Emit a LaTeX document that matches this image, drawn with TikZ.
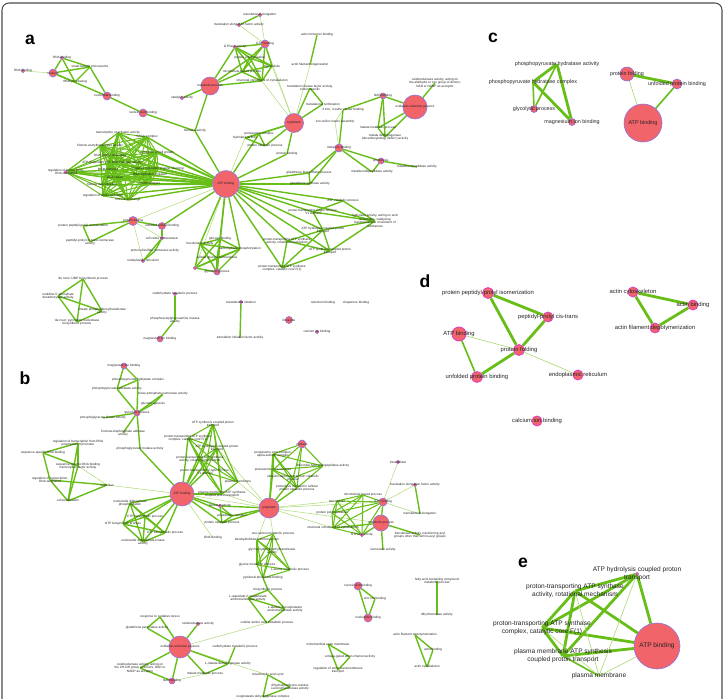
\documentclass[tikz,border=0pt]{standalone}
\usepackage{fontspec}
\setmainfont{Liberation Sans}
\usetikzlibrary{backgrounds}
\definecolor{nodefill}{RGB}{241,100,106}
\definecolor{rimblue}{RGB}{140,112,228}
\definecolor{rimmag}{RGB}{222,62,196}
\definecolor{grn}{RGB}{104,190,24}
\definecolor{grnl}{RGB}{168,216,110}
\definecolor{txt}{RGB}{35,35,35}
\definecolor{framegray}{RGB}{75,75,75}

\begin{document}
\begin{tikzpicture}[
  x=0.03cm, y=-0.03cm,
  hub/.style={circle,fill=nodefill,draw=rimblue,line width=0.5pt,inner sep=0pt,minimum size=#1},
  hubd/.style={hub=#1,draw=rimmag,line width=0.7pt},
  dot/.style={circle,fill=nodefill,draw=rimblue,line width=0.3pt,inner sep=0pt,minimum size=0.11cm},
  pt/.style={inner sep=0pt,minimum size=0pt},
  ta/.style={label={[font=\fontsize{2.7}{3.1}\selectfont,text=txt,align=center,inner sep=0pt]center:{#1}}},
  tc/.style={label={[font=\fontsize{4.6}{5.4}\selectfont,text=txt,align=center,inner sep=0pt]center:{#1}}},
  td/.style={label={[font=\fontsize{5}{6}\selectfont,text=txt,align=center,inner sep=0pt]center:{#1}}},
  te/.style={label={[font=\fontsize{5.6}{6.6}\selectfont,text=txt,align=center,inner sep=0pt]center:{#1}}},
  eA/.style={draw=grn,line width=1.2pt},
  eAt/.style={draw=grnl,line width=0.4pt},
  eB/.style={draw=grn,line width=2.4pt},
  eBm/.style={draw=grn,line width=1.4pt},
  eBt/.style={draw=grnl,line width=0.5pt},
  panel/.style={font=\fontsize{15}{15}\selectfont\bfseries,inner sep=0pt}
]
  \useasboundingbox (0,0) rectangle (725,699);
  \draw[framegray,line width=0.9pt,rounded corners=6pt] (2,3) rectangle (722,712);

  % panel a
  \node[panel] (pa) at (30,40) {a};
  \node[dot,ta=DNA binding] (dna) at (23,71) {};
  \node[hub=0.24cm,ta=nucleus] (nuca) at (53,73) {};
  \node[dot,ta=RNA binding] (rnab) at (62,58) {};
  \node[pt,ta=small-subunit processome] (ssp) at (90,67) {};
  \node[pt,ta=rRNA processing] (rrna) at (75,82) {};
  \node[hub=0.24cm,ta=nucleotide binding] (ntb) at (107,96) {};
  \node[hub=0.24cm,ta=nucleic acid binding] (nab) at (143,113) {};
  \node[pt,ta=helicase activity] (hel) at (195,131) {};
  \node[hub=0.54cm,ta=metabolic process] (meta) at (210,86) {};
  \node[dot,ta=catalytic activity] (cata) at (182,98) {};
  \node[dot,ta=GTPase activity] (gtpa) at (235,47) {};
  \node[hub=0.24cm,ta=GTP binding] (gtpb) at (265,44) {};
  \node[pt,ta=protein polymerization] (ppol) at (250,58) {};
  \node[pt,ta=microtubule] (mtb) at (272,66) {};
  \node[pt,ta=microtubule-based process] (mbp) at (242,72) {};
  \node[pt,ta=structural constituent of cytoskeleton] (scc) at (262,81) {};
  \node[dot,ta=translation elongation factor activity] (tef) at (239,25) {};
  \node[dot,ta=translational elongation] (tel) at (260,15) {};
  \node[pt,ta=actin monomer binding] (amb) at (317,35) {};
  \node[pt,ta=actin filament organization] (afo) at (310,65) {};
  \node[pt,ta={translation release factor activity,\\codon specific}] (trf) at (310,88) {};
  \node[pt,ta=translational termination] (ttm) at (323,104) {};
  \node[hub=0.57cm,ta=cytoplasm] (cyta) at (294,123) {};
  \node[pt,ta={4 iron, 4 sulfur cluster binding}] (fes) at (343,110) {};
  \node[pt,ta=iron-sulfur cluster assembly] (isc) at (335,122) {};
  \node[hub=0.18cm,ta=NAD binding] (nad) at (383,96) {};
  \node[hub=0.72cm,ta=oxidation-reduction process] (oxr) at (415,107) {};
  \node[pt,ta={oxidoreductase activity, acting on\\the aldehyde or oxo group of donors,\\NAD or NADP as acceptor}] (oxa) at (435,83) {};
  \node[pt,ta=malate metabolic process] (mmp) at (378,128) {};
  \node[pt,ta={malate dehydrogenase\\(decarboxylating) (NAD+) activity}] (mdh) at (385,137) {};
  \node[hub=0.24cm,ta=metal ion binding] (mib) at (339,148) {};
  \node[hub=0.18cm,ta=proteolysis] (prl) at (381,161) {};
  \node[pt,ta=metalloexopeptidase activity] (mex) at (417,167) {};
  \node[pt,ta=metalloendopeptidase activity] (men) at (372,172) {};
  \node[pt,ta=glutathione biosynthetic process] (gbp) at (309,173) {};
  \node[pt,ta=glutathione synthase activity] (gsa) at (310,184) {};
  \node[pt,ta=protein binding] (pba) at (287,154) {};
  \node[pt,ta=proteasome complex] (psc) at (259,134) {};
  \node[pt,ta=hydrolase activity] (hyd) at (245,138) {};
  \node[pt,ta=protein catabolic process] (pcp) at (265,146) {};
  \node[hub=0.8cm,ta=ATP binding] (atpa) at (226,184) {};
  \node[pt,ta=transcription coactivator activity] (m1) at (118,133) {};
  \node[pt,ta=SAGA complex] (m2) at (147,137) {};
  \node[pt,ta=histone acetyltransferase activity] (m3) at (100,146) {};
  \node[pt,ta=DNA duplex unwinding] (m4) at (110,156) {};
  \node[pt,ta=regulation of cell growth] (m5) at (157,153) {};
  \node[pt,ta=ATP-dependent 3'-5' DNA helicase activity] (m6) at (112,163) {};
  \node[dot,ta={regulation of transcription,\\DNA-templated}] (m7) at (66,172) {};
  \node[pt,ta=MCM complex] (m8) at (108,170) {};
  \node[pt,ta=negative regulation of gene silencing] (m9) at (158,169) {};
  \node[pt,ta=DNA replication initiation] (m10) at (150,175) {};
  \node[pt,ta=DNA repair] (m11) at (115,178) {};
  \node[pt,ta=Ino80 complex] (m12) at (150,184) {};
  \node[pt,ta=histone deacetylation] (m13) at (102,185) {};
  \node[pt,ta=regulation of DNA replication] (m14) at (103,196) {};
  \node[pt,ta=histone exchange] (m15) at (128,200) {};
  \node[hub=0.27cm,ta=protein folding] (pf) at (133,221) {};
  \node[hub=0.21cm,ta=unfolded protein binding] (upb) at (162,226) {};
  \node[pt,ta=protein peptidyl-prolyl isomerization] (ppi) at (83,226) {};
  \node[pt,ta={peptidyl-prolyl cis-trans isomerase\\activity}] (ppia) at (90,242) {};
  \node[dot,ta=cell redox homeostasis] (crh) at (162,238) {};
  \node[pt,ta=protein disulfide isomerase activity] (pdi) at (155,251) {};
  \node[dot,ta=endoplasmic reticulum] (era) at (143,261) {};
  \node[pt,ta=glucose binding] (gbd) at (220,239) {};
  \node[pt,ta=hexokinase activity] (hxk) at (200,244) {};
  \node[pt,ta=carbohydrate phosphorylation] (cph) at (240,249) {};
  \node[pt,ta=cellular glucose homeostasis] (cgh) at (217,258) {};
  \node[hub=0.18cm,ta=glycolytic process] (glya) at (217,272) {};
  \node[dot] (gx) at (195,268) {};
  \node[pt,ta=ATP catabolic process] (acp) at (343,201) {};
  \node[pt,ta={proton-transporting V-type ATPase,\\V1 domain}] (v1) at (313,212) {};
  \node[pt,ta={hydrolase activity, acting on acid\\anhydrides, catalyzing\\transmembrane movement of\\substances}] (hac) at (375,221) {};
  \node[pt,ta={ATP hydrolysis coupled proton\\transport}] (ahc) at (323,230) {};
  \node[pt,ta={proton-transporting ATP synthase\\activity, rotational mechanism}] (rot) at (287,241) {};
  \node[pt,ta={ATP synthesis coupled proton\\transport}] (asc) at (330,251) {};
  \node[pt,ta={proton-transporting ATP synthase\\complex, catalytic core F(1)}] (ccf) at (282,268) {};
  \node[pt,ta='de novo' UMP biosynthetic process] (ump) at (83,279) {};
  \node[pt,ta={orotidine-5'-phosphate\\decarboxylase activity}] (oro) at (58,296) {};
  \node[pt,ta={orotate phosphoribosyltransferase\\activity}] (ort) at (102,311) {};
  \node[pt,ta={'de novo' pyrimidine nucleobase\\biosynthetic process}] (pyr) at (77,322) {};
  \node[dot,ta=carbohydrate metabolic process] (cmp) at (175,294) {};
  \node[pt,ta={phosphoacetylglucosamine mutase\\activity}] (pam) at (175,320) {};
  \node[hub=0.18cm,ta=magnesium ion binding] (mgi) at (160,339) {};
  \node[dot,ta=translational initiation] (tin) at (241,302) {};
  \node[pt,ta=translation initiation factor activity] (tif) at (240,338) {};
  \node[pt,ta=selenium binding] (seb) at (323,303) {};
  \node[pt,ta=chaperone binding] (chb) at (356,303) {};
  \node[hub=0.21cm,ta=ribosome] (rib) at (289,320) {};
  \node[dot,ta=calcium ion binding] (cib) at (317,332) {};

  % panel b
  \node[panel] (pb) at (25,378) {b};
  \node[hub=0.18cm,ta=magnesium ion binding] (mgb) at (124,366) {};
  \node[pt,ta=phosphopyruvate hydratase complex] (phc) at (138,380) {};
  \node[pt,ta=phosphopyruvate hydratase activity] (pha) at (117,389) {};
  \node[pt,ta=triose-phosphate isomerase activity] (tpi) at (163,394) {};
  \node[pt,ta=gluconeogenesis] (gng) at (153,404) {};
  \node[hub=0.18cm,ta=glycolytic process] (glyb) at (137,413) {};
  \node[pt,ta=phosphoglycerate kinase activity] (pgk) at (103,418) {};
  \node[pt,ta={fructose-bisphosphate aldolase\\activity}] (fba) at (123,433) {};
  \node[pt,ta=phosphoglycerate mutase activity] (pgm) at (140,449) {};
  \node[pt,ta={regulation of transcription from RNA\\polymerase II promoter}] (rtp) at (78,443) {};
  \node[pt,ta=sequence-specific DNA binding] (ssd) at (43,453) {};
  \node[pt,ta={sequence-specific DNA binding\\transcription factor activity}] (sstf) at (78,466) {};
  \node[pt,ta={regulation of transcription,\\DNA-templated}] (rtd) at (50,480) {};
  \node[pt,ta=nucleolus] (nclo) at (107,485) {};
  \node[pt,ta=cell proliferation] (cpr) at (68,501) {};
  \node[hub=0.72cm,ta=ATP binding] (atpb) at (182,494) {};
  \node[pt,ta={ATP synthesis coupled proton\\transport}] (ascb) at (213,424) {};
  \node[pt,ta={proton-transporting ATP synthase\\complex, catalytic core F(1)}] (ccfb) at (188,438) {};
  \node[pt,ta={ATP hydrolysis coupled proton\\transport}] (ahcb) at (217,448) {};
  \node[pt,ta={proton-transporting ATP synthase\\activity, rotational mechanism}] (rotb) at (200,459) {};
  \node[pt,ta={proton-transporting V-type ATPase,\\V1 domain}] (v1b) at (205,472) {};
  \node[pt,ta=plasma membrane] (pmb) at (238,482) {};
  \node[pt,ta={plasma membrane ATP synthesis\\coupled proton transport}] (pmab) at (222,494) {};
  \node[dot,ta=helicase activity] (helb) at (220,506) {};
  \node[pt,ta=proteasome complex] (pscb) at (232,516) {};
  \node[pt,ta=protein catabolic process] (pcpb) at (222,523) {};
  \node[pt,ta=DNA binding] (dnab) at (213,538) {};
  \node[pt,ta={nucleoside diphosphate\\phosphorylation}] (ndp) at (130,503) {};
  \node[pt,ta=CTP biosynthetic process] (ctp) at (145,517) {};
  \node[pt,ta=GTP biosynthetic process] (gtpbs) at (123,524) {};
  \node[pt,ta=UTP biosynthetic process] (utp) at (165,533) {};
  \node[pt,ta={nucleoside diphosphate kinase\\activity}] (ndk) at (143,542) {};
  \node[hub=0.6cm,ta=cytoplasm] (cytb) at (269,508) {};
  \node[hub=0.24cm,ta=nucleus] (nucb) at (302,444) {};
  \node[pt,ta={proteasome core complex,\\alpha-subunit complex}] (pcac) at (273,454) {};
  \node[pt,ta=threonine-type endopeptidase activity] (tea) at (323,466) {};
  \node[pt,ta=proteasome core complex] (pcc) at (273,470) {};
  \node[pt,ta={ubiquitin-dependent protein catabolic\\process}] (ubq) at (293,478) {};
  \node[pt,ta={proteolysis involved in cellular\\protein catabolic process}] (ppc) at (297,488) {};
  \node[dot,ta=intracellular] (icl) at (398,462) {};
  \node[dot,ta=translation elongation factor activity] (tefb) at (415,485) {};
  \node[pt,ta=translational elongation] (telb) at (420,514) {};
  \node[pt,ta=microtubule-based process] (mbpb) at (363,495) {};
  \node[pt,ta=microtubule] (mtbb) at (337,501) {};
  \node[pt,ta=protein polymerization] (ppb) at (332,513) {};
  \node[pt,ta=structural constituent of cytoskeleton] (sccb) at (333,528) {};
  \node[dot,ta=GTPase activity] (gtpab) at (362,535) {};
  \node[hub=0.24cm,ta=GTP binding] (gtpbb) at (383,502) {};
  \node[hub=0.48cm,ta=metabolic process] (metb) at (381,523) {};
  \node[pt,ta={transferase activity, transferring acyl\\groups other than amino-acyl groups}] (trb) at (420,535) {};
  \node[pt,ta=isomerase activity] (isob) at (383,550) {};
  \node[pt,ta=one-carbon metabolic process] (ocm) at (273,534) {};
  \node[pt,ta=tetrahydrofolate interconversion] (thf) at (257,540) {};
  \node[pt,ta={glycine hydroxymethyltransferase\\activity}] (ght) at (272,551) {};
  \node[pt,ta=glycine metabolic process] (glym) at (257,565) {};
  \node[pt,ta=L-serine metabolic process] (ser) at (290,570) {};
  \node[pt,ta=pyridoxal phosphate binding] (plp) at (263,578) {};
  \node[pt,ta=biosynthetic process] (bsp) at (268,590) {};
  \node[pt,ta={L-aspartate:2-oxoglutarate\\aminotransferase activity}] (asp) at (248,598) {};
  \node[pt,ta={L-alanine:2-oxoglutarate\\aminotransferase activity}] (ala) at (285,609) {};
  \node[pt,ta=cellular amino acid metabolic process] (camp) at (267,623) {};
  \node[pt,ta=response to oxidative stress] (ros) at (160,617) {};
  \node[pt,ta=glutathione peroxidase activity] (gpx) at (147,628) {};
  \node[dot,ta=oxidoreductase activity] (oxab) at (198,624) {};
  \node[hub=0.66cm,ta=oxidation-reduction process] (oxrb) at (180,647) {};
  \node[pt,ta=carbohydrate metabolic process] (cmpb) at (235,647) {};
  \node[pt,ta={oxidoreductase activity, acting on\\the CH-OH group of donors, NAD or\\NADP as acceptor}] (ohb) at (140,668) {};
  \node[hub=0.18cm,ta=NAD binding] (nadb) at (172,681) {};
  \node[pt,ta=L-malate dehydrogenase activity] (lmd) at (228,664) {};
  \node[pt,ta=malate metabolic process] (mmpb) at (205,674) {};
  \node[pt,ta=tricarboxylic acid cycle] (tca) at (268,675) {};
  \node[pt,ta={dihydrolipoyllysine-residue\\succinyltransferase activity}] (dls) at (290,687) {};
  \node[pt,ta=oxoglutarate dehydrogenase complex] (ogd) at (263,697) {};
  \node[hub=0.24cm,ta=nucleic acid binding] (nabb) at (358,586) {};
  \node[pt,ta=zinc ion binding] (znb) at (375,599) {};
  \node[hub=0.24cm,ta=nucleotide binding] (ntbb) at (368,618) {};
  \node[pt,ta={fatty acid-containing compound\\metabolic process}] (fac) at (437,581) {};
  \node[pt,ta=dihydroorotase activity] (dho) at (437,615) {};
  \node[pt,ta=mitochondrial outer membrane] (mom) at (328,644) {};
  \node[pt,ta=voltage-gated anion channel activity] (vga) at (350,657) {};
  \node[pt,ta={regulation of anion transmembrane\\transport}] (rat) at (338,670) {};
  \node[pt,ta=actin filament depolymerization] (afdb) at (415,635) {};
  \node[pt,ta=actin binding] (abb) at (433,650) {};
  \node[pt,ta=actin cytoskeleton] (acb) at (427,667) {};

  % panel c
  \node[panel] (pc) at (493,38) {c};
  \node[pt,tc=phosphopyruvate hydratase activity] (phac) at (557,64) {};
  \node[pt,tc=phosphopyruvate hydratase complex] (phcc) at (533,82) {};
  \node[hub=0.21cm,tc=glycolytic process] (glyc) at (534,109) {};
  \node[hub=0.21cm,tc=magnesium ion binding] (mgc) at (572,122) {};
  \node[hub=0.42cm,tc=protein folding] (pfc) at (627,74) {};
  \node[hub=0.3cm,tc=unfolded protein binding] (upbc) at (677,84) {};
  \node[hub=1.14cm,tc=ATP binding] (atpc) at (643,123) {};

  % panel d
  \node[panel] (pd) at (425,281) {d};
  \node[hubd=0.33cm,td=protein peptidyl-prolyl isomerization] (ppid) at (488,293) {};
  \node[hubd=0.3cm,td=peptidyl-prolyl cis-trans] (pctd) at (548,317) {};
  \node[hubd=0.42cm,td=ATP binding] (atpd) at (459,334) {};
  \node[hubd=0.33cm,td=protein folding] (pfd) at (519,350) {};
  \node[hubd=0.33cm,td=unfolded protein binding] (upbd) at (477,377) {};
  \node[hubd=0.3cm,td=endoplasmic reticulum] (erd) at (578,375) {};
  \node[hubd=0.3cm,td=calcium ion binding] (cibd) at (537,421) {};
  \node[hubd=0.3cm,td=actin cytoskeleton] (acd) at (633,292) {};
  \node[hubd=0.3cm,td=actin binding] (abd) at (693,305) {};
  \node[hubd=0.3cm,td=actin filament depolymerization] (afdd) at (655,328) {};

  % panel e
  \node[panel] (pe) at (523,563) {e};
  \node[dot,te={ATP hydrolysis coupled proton\\transport}] (hyde) at (637,574) {};
  \node[pt,te={proton-transporting ATP synthase\\activity, rotational mechanism}] (rote) at (575,591) {};
  \node[pt,te={proton-transporting ATP synthase\\complex, catalytic core F(1)}] (cate) at (542,628) {};
  \node[pt,te={plasma membrane ATP synthesis\\coupled proton transport}] (pmae) at (563,656) {};
  \node[pt,te=plasma membrane] (pme) at (599,676) {};
  \node[hub=1.38cm,te=ATP binding] (atpe) at (657,646) {};

  \begin{pgfonlayer}{background}
    % a: thin links
    \foreach \u/\v in {dna/nuca,tef/gtpb,tel/gtpb,cyta/gtpb,cyta/scc,cyta/mtb,afo/cyta,fes/isc,
        atpa/pf,atpa/hyd,pf/crh,pf/era,atpa/gx,mib/isc}
      \draw[eAt] (\u) -- (\v);
    % a: strong links
    \foreach \u/\v in {nuca/rnab,nuca/ssp,nuca/rrna,rnab/ssp,rnab/rrna,ssp/rrna,nuca/ntb,ssp/ntb,
        ntb/nab,nab/hel,hel/meta,hel/atpa,meta/cata,meta/gtpa,meta/ppol,meta/mbp,meta/scc,tef/tel,
        amb/afo,cyta/trf,cyta/ttm,trf/ttm,cyta/psc,cyta/pcp,cyta/hyd,psc/pcp,psc/hyd,hyd/pcp,
        cyta/pba,atpa/pba,atpa/psc,atpa/gbp,atpa/gsa,gbp/gsa,gbp/mib,gsa/mib,mib/fes,mib/prl,mib/men,
        prl/men,prl/mex,fes/nad,nad/oxr,nad/mmp,nad/mdh,oxr/mmp,oxr/mdh,mmp/mdh,oxr/oxa,
        atpa/upb,pf/upb,pf/ppi,pf/ppia,ppi/ppia,upb/crh,crh/pdi,pdi/era,crh/era,
        atpa/gbd,atpa/hxk,atpa/cph,atpa/glya,
        atpa/acp,atpa/v1,atpa/hac,atpa/ahc,atpa/rot,atpa/asc,atpa/ccf,acp/v1,acp/hac,v1/hac,
        v1/ahc,hac/ahc,hac/asc,cmp/pam,pam/mgi,tin/tif}
      \draw[eA] (\u) -- (\v);
    \foreach \u in {m1,m2,m3,m4,m5,m6,m7,m8,m9,m10,m11,m12,m13,m14,m15}
      \draw[eA] (atpa) -- (\u);
    \foreach \u [count=\i] in {m1,m2,m3,m4,m5,m6,m7,m8,m9,m10,m11,m12,m13,m14,m15}
      \foreach \v [count=\j] in {m1,m2,m3,m4,m5,m6,m7,m8,m9,m10,m11,m12,m13,m14,m15}
        {\ifnum\i<\j \draw[eA,line width=0.8pt] (\u) -- (\v); \fi}
    \foreach \u [count=\i] in {gtpa,gtpb,ppol,mtb,mbp,scc}
      \foreach \v [count=\j] in {gtpa,gtpb,ppol,mtb,mbp,scc}
        {\ifnum\i<\j \draw[eA] (\u) -- (\v); \fi}
    \foreach \u [count=\i] in {gbd,hxk,cph,cgh,glya,gx}
      \foreach \v [count=\j] in {gbd,hxk,cph,cgh,glya,gx}
        {\ifnum\i<\j \draw[eA] (\u) -- (\v); \fi}
    \foreach \u [count=\i] in {ahc,rot,asc,ccf}
      \foreach \v [count=\j] in {ahc,rot,asc,ccf}
        {\ifnum\i<\j \draw[eA] (\u) -- (\v); \fi}
    \foreach \u [count=\i] in {ump,oro,ort,pyr}
      \foreach \v [count=\j] in {ump,oro,ort,pyr}
        {\ifnum\i<\j \draw[eA] (\u) -- (\v); \fi}

    % b
    \foreach \u/\v in {atpb/nclo,sstf/nclo,cytb/pmb,cytb/pmab,cytb/ahcb,atpb/dnab,atpb/cytb,
        cytb/mtbb,cytb/metb,cytb/sccb,cytb/gtpbb,gtpbb/icl,gtpbb/tefb,gtpbb/telb,cytb/ocm,cytb/thf,
        camp/oxrb,oxrb/tca,nadb/mmpb}
      \draw[eAt] (\u) -- (\v);
    \foreach \u/\v in {mgb/phc,mgb/pha,phc/pha,phc/glyb,pha/glyb,tpi/gng,tpi/glyb,gng/glyb,
        glyb/pgk,glyb/fba,glyb/pgm,pgm/atpb,ssd/rtp,ssd/sstf,ssd/rtd,rtp/sstf,rtp/cpr,rtd/nclo,
        rtd/cpr,nclo/cpr,sstf/cpr,atpb/ascb,atpb/ccfb,atpb/ahcb,atpb/rotb,atpb/v1b,atpb/pmab,
        atpb/helb,atpb/pscb,atpb/pcpb,helb/pscb,pscb/pcpb,helb/pcpb,cytb/pscb,cytb/pcpb,cytb/helb,
        cytb/pcac,cytb/pcc,cytb/ubq,cytb/ppc,metb/gtpab,metb/gtpbb,metb/sccb,metb/trb,metb/isob,
        tefb/telb,plp/bsp,bsp/asp,bsp/ala,asp/ala,asp/camp,ala/camp,oxrb/ros,oxrb/gpx,ros/gpx,
        oxrb/oxab,oxrb/ohb,oxrb/nadb,oxrb/lmd,oxrb/mmpb,ohb/nadb,lmd/mmpb,lmd/cmpb,tca/dls,tca/ogd,
        dls/ogd,nabb/znb,nabb/ntbb,znb/ntbb,fac/dho,mom/vga,mom/rat,vga/rat,afdb/abb,afdb/acb,abb/acb}
      \draw[eA] (\u) -- (\v);
    \foreach \u in {ndp,ctp,gtpbs,utp,ndk}
      \draw[eA] (atpb) -- (\u);
    \foreach \u [count=\i] in {ndp,ctp,gtpbs,utp,ndk}
      \foreach \v [count=\j] in {ndp,ctp,gtpbs,utp,ndk}
        {\ifnum\i<\j \draw[eA] (\u) -- (\v); \fi}
    \foreach \u [count=\i] in {ascb,ccfb,ahcb,rotb,v1b,pmb,pmab}
      \foreach \v [count=\j] in {ascb,ccfb,ahcb,rotb,v1b,pmb,pmab}
        {\ifnum\i<\j \draw[eA,line width=0.9pt] (\u) -- (\v); \fi}
    \foreach \u [count=\i] in {nucb,pcac,tea,pcc,ubq,ppc}
      \foreach \v [count=\j] in {nucb,pcac,tea,pcc,ubq,ppc}
        {\ifnum\i<\j \draw[eA,line width=0.9pt] (\u) -- (\v); \fi}
    \foreach \u [count=\i] in {mbpb,mtbb,ppb,sccb,gtpab,gtpbb}
      \foreach \v [count=\j] in {mbpb,mtbb,ppb,sccb,gtpab,gtpbb}
        {\ifnum\i<\j \draw[eA,line width=0.9pt] (\u) -- (\v); \fi}
    \foreach \u [count=\i] in {ocm,thf,ght,glym,ser,plp}
      \foreach \v [count=\j] in {ocm,thf,ght,glym,ser,plp}
        {\ifnum\i<\j \draw[eA,line width=0.9pt] (\u) -- (\v); \fi}

    % c
    \foreach \u/\v in {phac/phcc,phac/mgc,phcc/mgc,pfc/upbc}
      \draw[eB] (\u) -- (\v);
    \foreach \u/\v in {phac/glyc,phcc/glyc,upbc/atpc}
      \draw[eBm] (\u) -- (\v);
    \draw[eBt] (pfc) -- (atpc);

    % d
    \foreach \u/\v in {ppid/pctd,ppid/pfd,pctd/pfd,upbd/pfd,acd/abd,acd/afdd,abd/afdd}
      \draw[eB] (\u) -- (\v);
    \draw[eBm] (atpd) -- (upbd);
    \foreach \u/\v in {atpd/pfd,pfd/erd}
      \draw[eBt] (\u) -- (\v);

    % e
    \foreach \u/\v in {hyde/rote,hyde/cate,hyde/pmae,hyde/atpe,rote/cate,rote/pmae,rote/atpe,
        cate/pmae,cate/atpe,pmae/atpe}
      \draw[eB] (\u) -- (\v);
    \draw[eBm] (pmae) -- (pme);
    \foreach \u/\v in {hyde/pme,rote/pme,cate/pme,pme/atpe}
      \draw[eBt] (\u) -- (\v);
  \end{pgfonlayer}
\end{tikzpicture}
\end{document}
